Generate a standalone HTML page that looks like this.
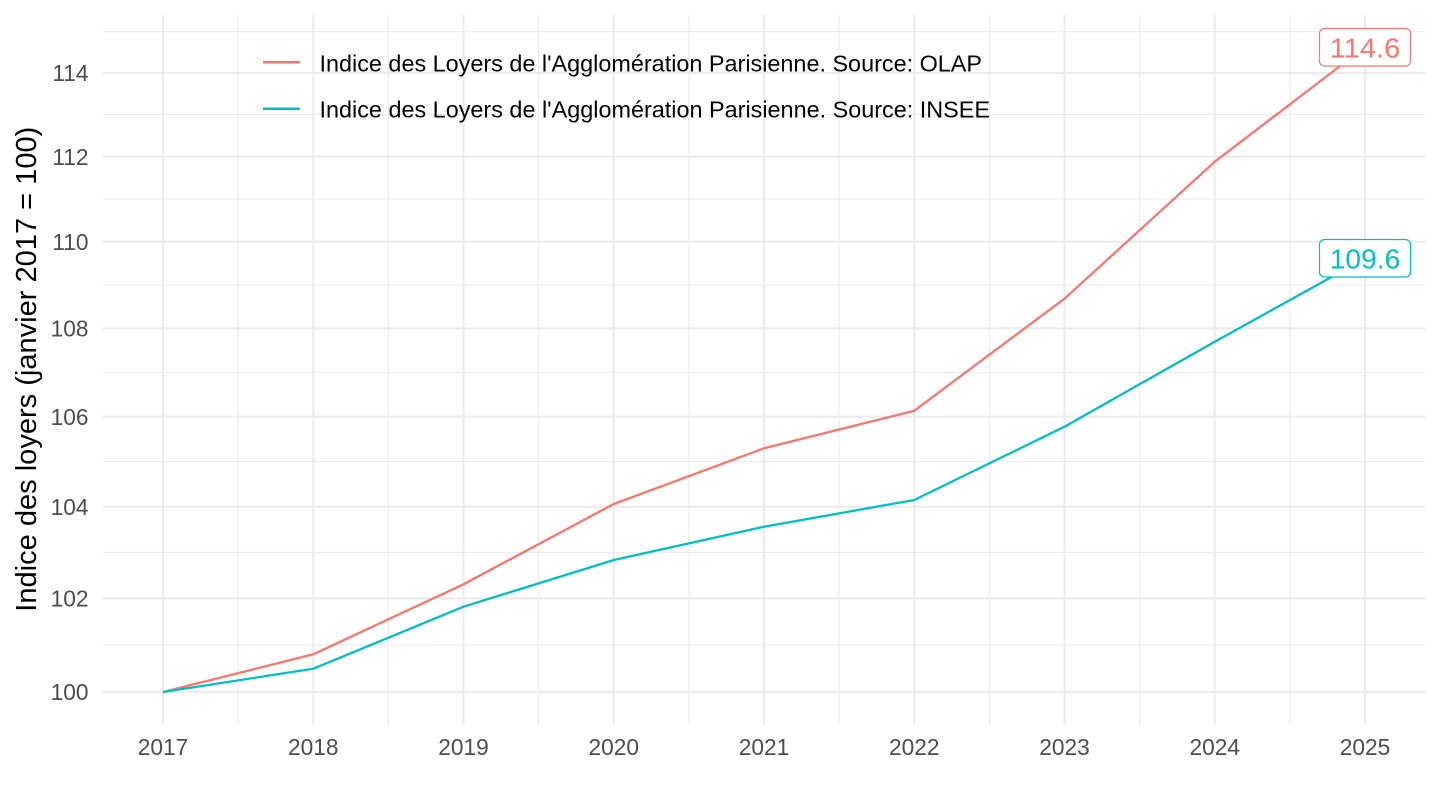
<!DOCTYPE html>
<html>
<head>
<meta charset="utf-8">
<style>
  html, body { margin: 0; padding: 0; background: #ffffff; }
  svg { display: block; }
  text { font-family: "Liberation Sans", Arial, sans-serif; }
</style>
</head>
<body>
<svg width="1440" height="810" viewBox="0 0 1440 810" xmlns="http://www.w3.org/2000/svg">
  <rect x="0" y="0" width="1440" height="810" fill="#ffffff"/>

  <!-- minor horizontal gridlines -->
  <g stroke="#EBEBEB" stroke-width="1.1" fill="none">
    <line x1="103" x2="1425" y1="645.0" y2="645.0"/>
    <line x1="103" x2="1425" y1="552.4" y2="552.4"/>
    <line x1="103" x2="1425" y1="461.5" y2="461.5"/>
    <line x1="103" x2="1425" y1="372.4" y2="372.4"/>
    <line x1="103" x2="1425" y1="284.9" y2="284.9"/>
    <line x1="103" x2="1425" y1="199.0" y2="199.0"/>
    <line x1="103" x2="1425" y1="114.6" y2="114.6"/>
    <line x1="103" x2="1425" y1="31.7" y2="31.7"/>
  </g>
  <!-- minor vertical gridlines -->
  <g stroke="#EBEBEB" stroke-width="1.1" fill="none">
    <line x1="238.1" x2="238.1" y1="15" y2="725"/>
    <line x1="388.4" x2="388.4" y1="15" y2="725"/>
    <line x1="538.6" x2="538.6" y1="15" y2="725"/>
    <line x1="688.9" x2="688.9" y1="15" y2="725"/>
    <line x1="839.1" x2="839.1" y1="15" y2="725"/>
    <line x1="989.4" x2="989.4" y1="15" y2="725"/>
    <line x1="1139.6" x2="1139.6" y1="15" y2="725"/>
    <line x1="1289.9" x2="1289.9" y1="15" y2="725"/>
  </g>
  <!-- major horizontal gridlines -->
  <g stroke="#EBEBEB" stroke-width="2.1" fill="none">
    <line x1="103" x2="1425" y1="692" y2="692"/>
    <line x1="103" x2="1425" y1="598.4" y2="598.4"/>
    <line x1="103" x2="1425" y1="506.7" y2="506.7"/>
    <line x1="103" x2="1425" y1="416.7" y2="416.7"/>
    <line x1="103" x2="1425" y1="328.4" y2="328.4"/>
    <line x1="103" x2="1425" y1="241.7" y2="241.7"/>
    <line x1="103" x2="1425" y1="156.6" y2="156.6"/>
    <line x1="103" x2="1425" y1="73.0" y2="73.0"/>
  </g>
  <!-- major vertical gridlines -->
  <g stroke="#EBEBEB" stroke-width="2.1" fill="none">
    <line x1="163" x2="163" y1="15" y2="725"/>
    <line x1="313.25" x2="313.25" y1="15" y2="725"/>
    <line x1="463.5" x2="463.5" y1="15" y2="725"/>
    <line x1="613.75" x2="613.75" y1="15" y2="725"/>
    <line x1="764" x2="764" y1="15" y2="725"/>
    <line x1="914.25" x2="914.25" y1="15" y2="725"/>
    <line x1="1064.5" x2="1064.5" y1="15" y2="725"/>
    <line x1="1214.75" x2="1214.75" y1="15" y2="725"/>
    <line x1="1365" x2="1365" y1="15" y2="725"/>
  </g>

  <!-- series -->
  <polyline fill="none" stroke="#F8766D" stroke-width="2.3" stroke-linejoin="round"
    points="163,692 313.25,654.3 463.5,584.3 613.75,504 764,448.3 914.25,410.7 1064.5,298.7 1214.75,161.7 1365,47"/>
  <polyline fill="none" stroke="#00BFC4" stroke-width="2.3" stroke-linejoin="round"
    points="163,692 313.25,668.7 463.5,606.7 613.75,560 764,526.7 914.25,500 1064.5,426.7 1214.75,341.7 1365,258.5"/>

  <!-- end labels -->
  <rect x="1319.5" y="28.5" width="91" height="37.5" rx="5" ry="5" fill="#ffffff" stroke="#F8766D" stroke-width="1.2"/>
  <text x="1365" y="57.3" font-size="28" fill="#F8766D" text-anchor="middle" textLength="70.5" lengthAdjust="spacingAndGlyphs">114.6</text>
  <rect x="1319.5" y="239.5" width="91" height="37.5" rx="5" ry="5" fill="#ffffff" stroke="#00BFC4" stroke-width="1.2"/>
  <text x="1365" y="268.5" font-size="28" fill="#00BFC4" text-anchor="middle" textLength="70.5" lengthAdjust="spacingAndGlyphs">109.6</text>

  <!-- y tick labels -->
  <g font-size="22.7" fill="#4D4D4D" text-anchor="end">
    <text x="88.5" y="700.2">100</text>
    <text x="88.5" y="606.6">102</text>
    <text x="88.5" y="514.9">104</text>
    <text x="88.5" y="424.9">106</text>
    <text x="88.5" y="336.6">108</text>
    <text x="88.5" y="249.9">110</text>
    <text x="88.5" y="164.8">112</text>
    <text x="88.5" y="81.2">114</text>
  </g>

  <!-- x tick labels -->
  <g font-size="22.7" fill="#4D4D4D" text-anchor="middle">
    <text x="163" y="755">2017</text>
    <text x="313.25" y="755">2018</text>
    <text x="463.5" y="755">2019</text>
    <text x="613.75" y="755">2020</text>
    <text x="764" y="755">2021</text>
    <text x="914.25" y="755">2022</text>
    <text x="1064.5" y="755">2023</text>
    <text x="1214.75" y="755">2024</text>
    <text x="1365" y="755">2025</text>
  </g>

  <!-- y axis title -->
  <text x="0" y="0" font-size="28.6" fill="#000000" text-anchor="middle"
    textLength="485" lengthAdjust="spacingAndGlyphs"
    transform="translate(36,369.2) rotate(-90)">Indice des loyers (janvier 2017 = 100)</text>

  <!-- legend -->
  <line x1="263" x2="300" y1="62.3" y2="62.3" stroke="#F8766D" stroke-width="2.5"/>
  <line x1="263" x2="300" y1="108.7" y2="108.7" stroke="#00BFC4" stroke-width="2.5"/>
  <g font-size="23" fill="#000000">
    <text x="319.5" y="71.7" textLength="662.5" lengthAdjust="spacingAndGlyphs">Indice des Loyers de l'Agglomération Parisienne. Source: OLAP</text>
    <text x="319.5" y="117.4" textLength="670.5" lengthAdjust="spacingAndGlyphs">Indice des Loyers de l'Agglomération Parisienne. Source: INSEE</text>
  </g>
</svg>
</body>
</html>
